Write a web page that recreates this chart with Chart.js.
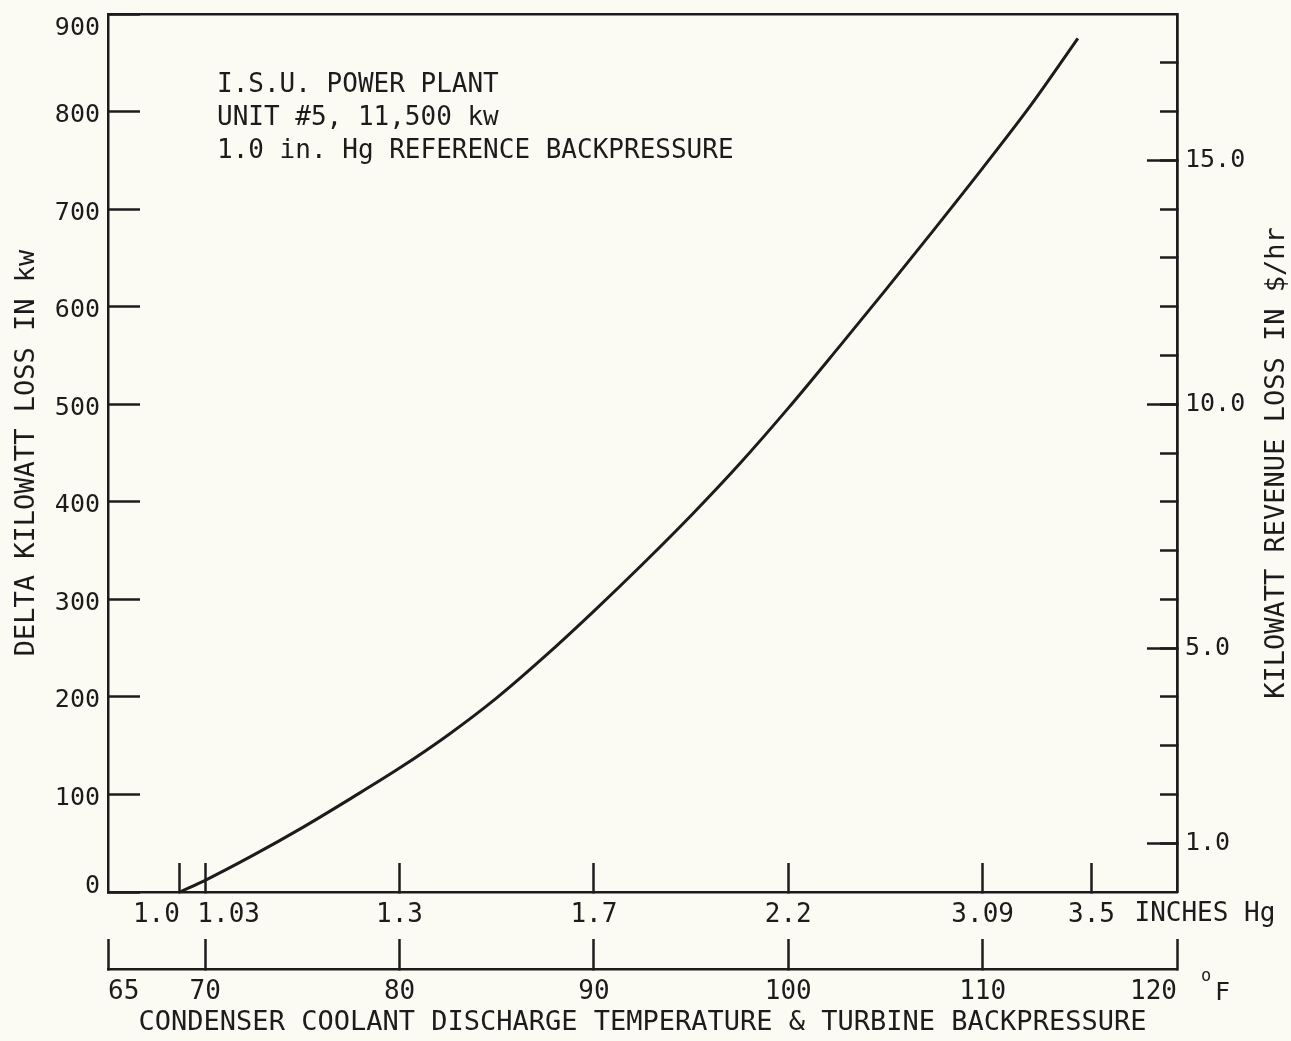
<!DOCTYPE html>
<html>
<head>
<meta charset="utf-8">
<script src="https://cdn.jsdelivr.net/npm/chart.js@4"></script>
<style>
    html, body { margin: 0; padding: 0; background: #fbfaf3; }
    #wrap { width: 1291px; height: 1041px; position: relative; }
</style>
</head>
<body>
<div id="wrap"><canvas id="lossChart"></canvas></div>
<script>
// temperature axis (deg F) and the matching backpressure marks (in. Hg)
const tempTicks = [65, 70, 80, 90, 100, 110, 120];
const tempTickLabels = ['  65', '70', '80', '90', '100', '110', '120   '];
const hgTemps = [68.7, 70, 80, 90, 100, 110, 115.6];
const hgLabels = ['1.0   ', '   1.03', '1.3', '1.7', '2.2', '3.09', '3.5'];

// left axis: kW loss, right axis: $/hr at 2 cents per kWh
const kwMax = 900;
const dollarsPerKw = 0.02;
const revenueMinor = [1, 2, 3, 4, 5, 6, 7, 8, 9, 10, 11, 12, 13, 14, 15, 16, 17];
const revenueMajor = [1, 5, 10, 15];
const revenueMajorLabels = ['1.0', '5.0', '10.0', '15.0'];

// delta kW loss vs discharge temperature
const curveTemp = [68.7, 70, 72.5, 75, 77.5, 80, 82.5, 85, 87.5, 90, 92.5, 95, 97.5, 100, 102.5, 105, 107.5, 110, 112.5, 114.9];
const curveKw   = [0, 12, 38, 66, 96, 127, 161, 199, 242, 288, 336, 386, 439, 496, 556, 617, 679, 742, 807, 875];

const noteLines = ['I.S.U. POWER PLANT', 'UNIT #5, 11,500 kw', '1.0 in. Hg REFERENCE BACKPRESSURE'];

const INK = '#1c1c1c';
const FONT = '"DejaVu Sans Mono", monospace';

// pin axis sizes so the plot box lands where the frame is drawn,
// and drop the label overhang padding chart.js adds around the area
function fixWidth(w) {
    return scale => {
        scale.width = w;
        scale.paddingTop = 0; scale.paddingBottom = 0;
    };
}
function fixHeight(h) {
    return scale => {
        scale.height = h;
        scale.paddingLeft = 0; scale.paddingRight = 0;
    };
}

const annotations = {
    id: 'annotations',
    afterDraw(chart) {
        const ctx = chart.ctx;
        const area = chart.chartArea;
        const hg = chart.scales.xHg;
        const temp = chart.scales.x;
        ctx.save();
        ctx.fillStyle = INK;
        ctx.textBaseline = 'middle';

        // plant / unit note
        ctx.font = '26px ' + FONT;
        ctx.textAlign = 'left';
        noteLines.forEach((line, i) => ctx.fillText(line, area.left + 109, area.top + 71 + i * 33));

        // units at the end of the two bottom scales
        ctx.fillText('INCHES Hg', hg.getPixelForValue(hgTemps[hgTemps.length - 1]) + 43, hg.top + 22);
        ctx.font = '17px ' + FONT;
        ctx.fillText('o', temp.right + 24, temp.top + 8);
        ctx.font = '25px ' + FONT;
        ctx.fillText('F', temp.right + 38, temp.top + 24);

        // right axis title reads bottom to top
        ctx.font = '27px ' + FONT;
        ctx.textAlign = 'center';
        ctx.translate(1277, (area.top + area.bottom) / 2 + 10);
        ctx.rotate(-Math.PI / 2);
        ctx.fillText('KILOWATT REVENUE LOSS IN $/hr', 0, 0);
        ctx.restore();
    }
};

const tickGrid = len => ({
    display: true,
    drawOnChartArea: false,
    drawTicks: true,
    tickLength: len,
    tickColor: INK,
    tickWidth: 2.5
});
const border = { display: true, color: INK, width: 2.5 };

const ctx = document.getElementById('lossChart').getContext('2d');
new Chart(ctx, {
    type: 'line',
    data: {
        datasets: [{
            data: curveTemp.map((t, i) => ({ x: t, y: curveKw[i] })),
            borderColor: INK,
            borderWidth: 3,
            pointRadius: 0,
            fill: false,
            cubicInterpolationMode: 'monotone',
            xAxisID: 'x',
            yAxisID: 'y'
        }]
    },
    options: {
        responsive: true,
        maintainAspectRatio: false,
        animation: false,
        devicePixelRatio: 1,
        layout: { padding: { top: 14, left: 0, right: 0, bottom: 0 } },
        plugins: { legend: { display: false }, tooltip: { enabled: false } },
        scales: {
            xHg: {
                type: 'linear', position: 'bottom', weight: 0,
                min: 65, max: 120,
                afterBuildTicks: s => { s.ticks = hgTemps.map(v => ({ value: v })); },
                afterFit: fixHeight(77),
                grid: tickGrid(-29),
                border: border,
                ticks: {
                    autoSkip: false, maxRotation: 0, minRotation: 0,
                    padding: 37, color: INK,
                    font: { family: FONT, size: 26 },
                    callback: (v, i) => hgLabels[i]
                }
            },
            x: {
                type: 'linear', position: 'bottom', weight: 1,
                min: 65, max: 120,
                afterBuildTicks: s => { s.ticks = tempTicks.map(v => ({ value: v })); },
                afterFit: fixHeight(72),
                grid: tickGrid(-30),
                border: border,
                ticks: {
                    autoSkip: false, maxRotation: 0, minRotation: 0,
                    padding: 38, color: INK,
                    font: { family: FONT, size: 26 },
                    callback: (v, i) => tempTickLabels[i]
                },
                title: {
                    display: true,
                    text: 'CONDENSER COOLANT DISCHARGE TEMPERATURE & TURBINE BACKPRESSURE',
                    color: INK,
                    font: { family: FONT, size: 27 },
                    padding: { top: 0, bottom: 2 }
                }
            },
            xTop: {
                type: 'linear', position: 'top',
                min: 65, max: 120,
                afterFit: fixHeight(0),
                grid: { display: false },
                border: border,
                ticks: { display: false }
            },
            y: {
                type: 'linear', position: 'left',
                min: 0, max: kwMax,
                afterFit: fixWidth(108),
                grid: tickGrid(-32),
                border: border,
                ticks: {
                    stepSize: 100, padding: 40, labelOffset: 4, color: INK,
                    font: { family: FONT, size: 25, lineHeight: 0.8 },
                    callback: v => v === kwMax ? ['', String(v)] : (v === 0 ? ['0', ''] : String(v))
                },
                title: {
                    display: true,
                    text: 'DELTA KILOWATT LOSS IN kw',
                    color: INK,
                    font: { family: FONT, size: 27 },
                    padding: { top: 11, bottom: 0 }
                }
            },
            yMinor: {
                type: 'linear', position: 'right', weight: 0,
                min: 0, max: kwMax * dollarsPerKw,
                afterBuildTicks: s => { s.ticks = revenueMinor.map(v => ({ value: v })); },
                afterFit: fixWidth(0),
                grid: tickGrid(-17),
                border: border,
                ticks: { display: false }
            },
            yRev: {
                type: 'linear', position: 'right', weight: 1,
                min: 0, max: kwMax * dollarsPerKw,
                afterBuildTicks: s => { s.ticks = revenueMajor.map(v => ({ value: v })); },
                afterFit: fixWidth(114),
                grid: tickGrid(-30),
                border: border,
                ticks: {
                    padding: 38, color: INK,
                    font: { family: FONT, size: 25 },
                    callback: (v, i) => revenueMajorLabels[i]
                }
            }
        }
    },
    plugins: [annotations]
});
</script>
</body>
</html>
